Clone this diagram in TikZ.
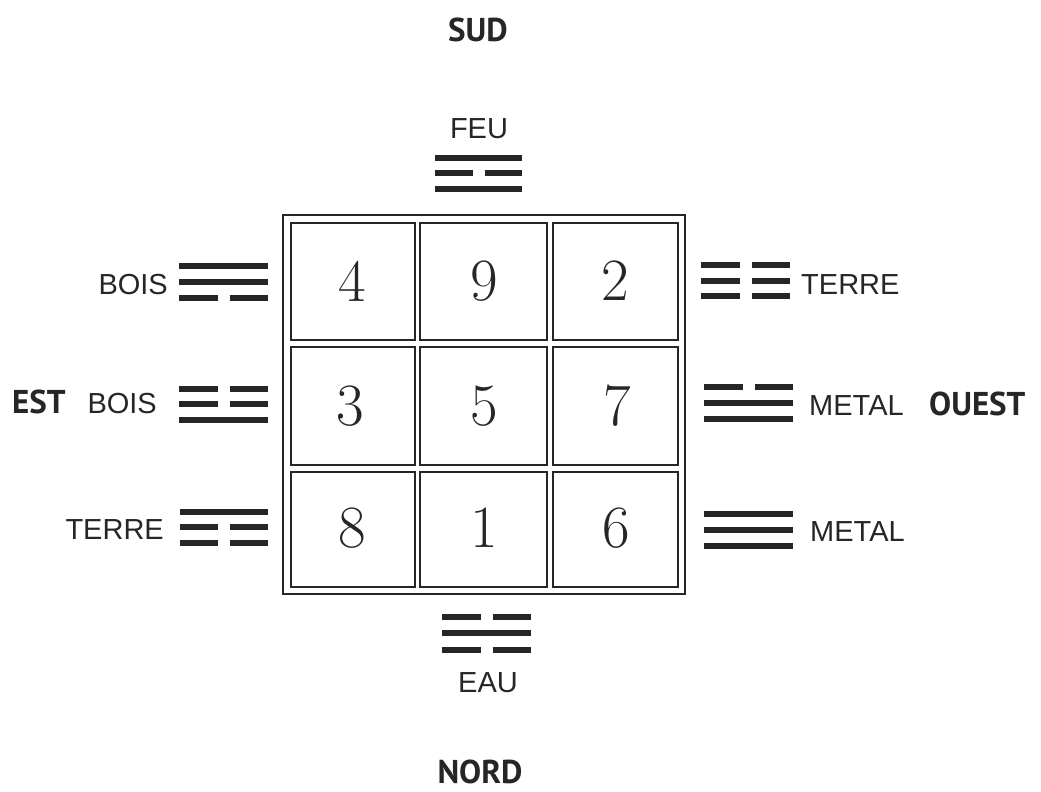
\documentclass[tikz,border=0pt]{standalone}
\usepackage{fontspec}
\newfontfamily\lblfont{Liberation Sans}
\newfontfamily\dirfont{PT Sans}
\newfontfamily\digfont{Liberation Serif}
\newcommand\yangbar[3]{\draw[bar] (#1,#3) -- (#2,#3);}
\newcommand\yinbar[3]{\draw[bar] (#1,#3) -- ({(#1+#2)/2-6},#3); \draw[bar] ({(#1+#2)/2+6},#3) -- (#2,#3);}
\tikzset{
  bar/.style={line width=5.5pt, line cap=butt, draw=black!85},
  cell/.style={draw=black!85, line width=1.8pt},
  digit/.style={font=\fontsize{60}{60}\selectfont, inner sep=0pt, text=black!85},
  lbl/.style={font=\lblfont\fontsize{29}{29}\selectfont, inner sep=0pt, text=black!85},
  dir/.style={font=\dirfont\bfseries\fontsize{33}{33}\selectfont, inner sep=0pt, text=black!85}
}
\begin{document}
\begin{tikzpicture}[x=1pt,y=-1pt]
\useasboundingbox[fill=white] (0,0) rectangle (1041,792);
% frame
\draw[cell, line width=2pt] (283,215) rectangle (685,594);
\draw[cell] (291,223) rectangle (415,340);
\draw[cell] (420,223) rectangle (547,340);
\draw[cell] (553,223) rectangle (678,340);
\draw[cell] (291,347) rectangle (415,465);
\draw[cell] (420,347) rectangle (547,465);
\draw[cell] (553,347) rectangle (678,465);
\draw[cell] (291,472) rectangle (415,587);
\draw[cell] (420,472) rectangle (547,587);
\draw[cell] (553,472) rectangle (678,587);
% digits
\node[digit] (n4) at (352,281) {4};
\node[digit] (n9) at (484,281) {9};
\node[digit] (n2) at (615,281) {2};
\node[digit] (n3) at (350,406) {3};
\node[digit] (n5) at (484,406) {5};
\node[digit] (n7) at (617,406) {7};
\node[digit] (n8) at (352,528) {8};
\node[digit] (n1) at (484,528) {1};
\node[digit] (n6) at (616,528) {6};
% trigrams
% FEU
\yangbar{435}{522}{158} \yinbar{435}{522}{173} \yangbar{435}{522}{189}
% EAU
\yinbar{442}{531}{617} \yangbar{442}{531}{633} \yinbar{442}{531}{650}
% BOIS top
\yangbar{179}{268}{266} \yangbar{179}{268}{282} \yinbar{179}{268}{298}
% BOIS mid
\yinbar{179}{268}{389} \yinbar{179}{268}{404} \yangbar{179}{268}{420}
% TERRE left
\yangbar{180}{268}{512} \yinbar{180}{268}{527} \yinbar{180}{268}{543}
% TERRE right
\yinbar{701}{790}{265} \yinbar{701}{790}{281} \yinbar{701}{790}{296}
% METAL mid
\yinbar{704}{793}{387} \yangbar{704}{793}{403} \yangbar{704}{793}{419}
% METAL bottom
\yangbar{704}{793}{514} \yangbar{704}{793}{530} \yangbar{704}{793}{546}
% labels
\node[lbl, anchor=base] (feu) at (479,138) {FEU};
\node[lbl, anchor=base] (eau) at (488,692) {EAU};
\node[lbl, anchor=base east] (bois1) at (168,294) {BOIS};
\node[lbl, anchor=base east] (bois2) at (157,413) {BOIS};
\node[lbl, anchor=base east] (terre1) at (164,539) {TERRE};
\node[lbl, anchor=base west] (terre2) at (801,294) {TERRE};
\node[lbl, anchor=base west] (metal1) at (809,415) {METAL};
\node[lbl, anchor=base west] (metal2) at (810,541) {METAL};
% directions
\node[dir, anchor=base] (sud) at (478,42) {SUD};
\node[dir, anchor=base] (nord) at (480,783) {NORD};
\node[dir, anchor=base west] (est) at (12,413) {EST};
\node[dir, anchor=base west] (ouest) at (929,415) {OUEST};
\end{tikzpicture}
\end{document}
